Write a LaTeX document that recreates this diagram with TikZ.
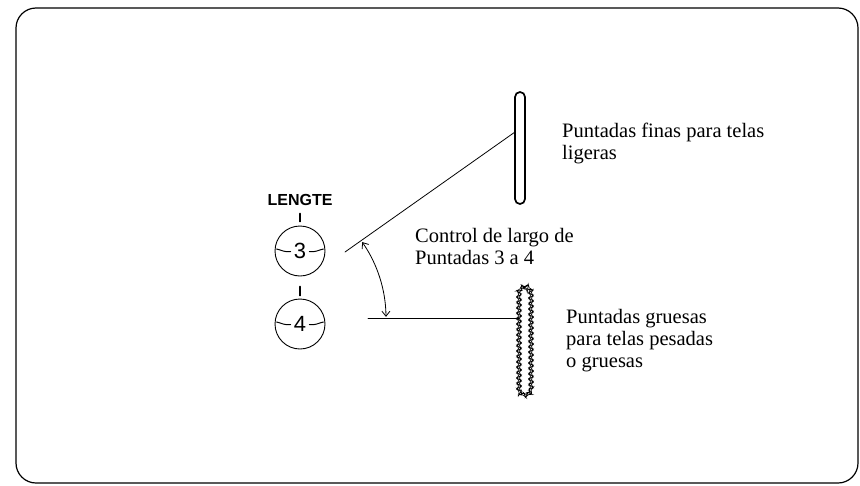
\documentclass[tikz,border=0pt]{standalone}
\usepackage{fontspec}
\setmainfont{Liberation Serif}
\newfontfamily\labfont{Liberation Sans}
\usetikzlibrary{arrows.meta,decorations.pathmorphing,calc}
\begin{document}
\begin{tikzpicture}[x=1pt,y=-1pt,line cap=round,
  frame/.style={draw,line width=1.2pt,rounded corners=20pt},
  dial/.style={draw,circle,line width=0.9pt,minimum size=50pt,inner sep=0pt,
    font=\labfont\fontsize{22}{22}\selectfont},
  tickmark/.style={line width=1.7pt},
  dialdash/.style={line width=1pt},
  finebar/.style={draw,line width=1.7pt,minimum width=10pt,minimum height=112pt,
    rounded corners=5pt,inner sep=0pt},
  coarsebar/.style={draw,line width=0.6pt,minimum width=12pt,minimum height=108pt,
    rounded corners=5pt,inner sep=0pt,decorate,
    decoration={zigzag,amplitude=1.9pt,segment length=5.4pt}},
  lead/.style={line width=0.8pt},
  angarrow/.style={line width=0.8pt,
    {Straight Barb[length=5pt,width=8pt]}-{Straight Barb[length=5pt,width=8pt]}},
  txt/.style={anchor=base west,inner sep=0pt,align=left,
    font=\fontsize{20.5}{22}\selectfont}
]
\useasboundingbox (0,0) rectangle (860,485);
\draw[frame] (16,8) rectangle (858,483);

% dials
\node[inner sep=0pt,anchor=base,font=\labfont\bfseries\fontsize{16}{16}\selectfont] (lab) at (300,205) {LENGTE};
\node[dial] (d3) at (300,251) {3};
\node[dial] (d4) at (300,324) {4};
\draw[tickmark] ($(d3.north)+(0,-4)$) -- ($(d3.north)+(0,-12)$);
\draw[tickmark] ($(d4.north)+(0,-3)$) -- ($(d4.north)+(0,-12)$);
\foreach \d in {d3,d4}{
  \draw[dialdash] ($(\d.west)+(2,-2)$) .. controls ($(\d.west)+(7,-1)$) and ($(\d.west)+(10,1.5)$) .. ($(\d.west)+(16,0.5)$);
  \draw[dialdash] ($(\d.east)+(-16,0.5)$) .. controls ($(\d.east)+(-10,1.5)$) and ($(\d.east)+(-7,-1)$) .. ($(\d.east)+(-2,-2)$);
}

% stitch bars
\node[finebar] (fine) at (520,148) {};
\node[coarsebar] (coarse) at (525,341) {};

% leader lines
\coordinate (a) at (345,252);
\coordinate (b) at (515,132);
\draw[lead] (a) -- (b);
\coordinate (c) at (368,318);
\draw[lead] (c) -- (c -| coarse.west);

% angle arrow
\coordinate (v) at (253,318);
\draw[angarrow] (v) ++(-34.8:133) arc[start angle=-34.8,end angle=-0.5,radius=133];

% texts
\node[txt] (t1) at (562,159) {Puntadas finas para telas\\ligeras};
\node[txt] (t2) at (415,264) {Control de largo de\\Puntadas 3 a 4};
\node[txt] (t3) at (566,367) {Puntadas gruesas\\para telas pesadas\\o gruesas};
\end{tikzpicture}
\end{document}
